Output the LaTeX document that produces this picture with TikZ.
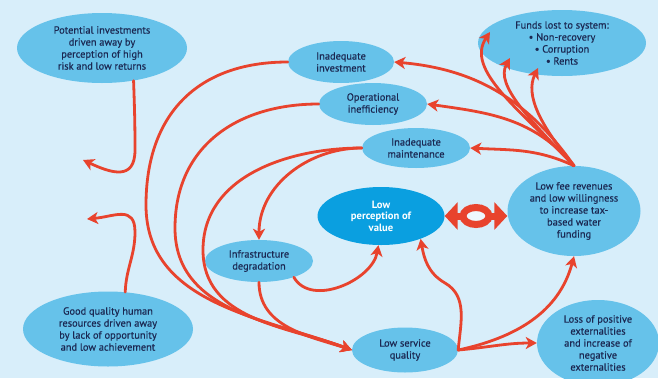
\documentclass[tikz,border=0pt]{standalone}
\usepackage{fontspec}
\setmainfont{PT Sans}
\newfontfamily\txtfont{PT Sans}[FakeBold=0.4]
\usetikzlibrary{shapes.geometric,arrows.meta}
\definecolor{bg}{HTML}{D8EEFA}
\definecolor{ell}{HTML}{66C2EA}
\definecolor{ellD}{HTML}{0A9FE0}
\definecolor{arr}{HTML}{E8432D}
\definecolor{txt}{HTML}{1B2852}
\definecolor{hole}{HTML}{EEF7FD}
\begin{document}
\begin{tikzpicture}[x=1pt,y=-1pt,
  bub/.style={ellipse, fill=ell, inner sep=0pt, align=center, text=txt,
    font=\txtfont\fontsize{10.4}{12}\selectfont},
  bubD/.style={bub, fill=ellD, text=white, font=\fontsize{10.6}{11.5}\selectfont\bfseries},
  rarr/.style={draw=arr, line width=2.8pt, line cap=round,
    -{Stealth[length=11pt,width=12pt,inset=3pt]}},
  dblarr/.style={draw=arr, line width=7pt,
    {Triangle[length=13pt,width=27pt]}-{Triangle[length=13pt,width=27pt]}},
  ringnode/.style={ellipse, draw=arr, fill=hole, line width=7pt, inner sep=0pt,
    minimum width=26pt, minimum height=17pt},
]
\fill[bg] (0,0) rectangle (658,378);
\useasboundingbox (0,0) rectangle (658,378);

% nodes
\node[bub, minimum width=170pt, minimum height=70pt] (pot) at (102,48)
  {Potential investments\\driven away by\\perception of high\\risk and low returns};
\node[bub, minimum width=168pt, minimum height=66pt] (funds) at (562,43)
  {Funds lost to system:\\• Non-recovery\\• Corruption\\• Rents};
\node[bub, minimum width=106pt, minimum height=42pt] (inv) at (341,62)
  {Inadequate\\investment};
\node[bub, minimum width=108pt, minimum height=42pt] (ope) at (373,104)
  {Operational\\inefficiency};
\node[bub, minimum width=108pt, minimum height=40pt] (mai) at (416,148)
  {Inadequate\\maintenance};
\node[bubD, minimum width=127pt, minimum height=58pt] (lpv) at (381,216)
  {Low\\perception of\\value};
\node[bub, minimum width=133pt, minimum height=90pt] (lfr) at (574,211)
  {Low fee revenues\\and low willingness\\to increase tax-\\based water\\funding};
\node[bub, minimum width=108pt, minimum height=42pt] (inf) at (259,261)
  {Infrastructure\\degradation};
\node[bub, minimum width=170pt, minimum height=75pt] (good) at (108,329)
  {Good quality human\\resources driven away\\by lack of opportunity\\and low achievement};
\node[bub, minimum width=106pt, minimum height=45pt] (lsq) at (405,350)
  {Low service\\quality};
\node[bub, minimum width=122pt, minimum height=86pt] (loss) at (598,343)
  {Loss of positive\\externalities\\and increase of\\negative\\externalities};

% free ends
\coordinate (hookA) at (83,160);
\coordinate (hookB) at (87,219);
\coordinate (f1) at (490,32);
\coordinate (f2) at (510,58);
\coordinate (f3) at (538,68);

% hooks
\draw[rarr] (pot.-46) to[out=-88,in=90] (135,150) to[out=-90,in=-25,looseness=1.5] (hookA);
\draw[rarr] (good.65) to[out=88,in=-90] (135,232) to[out=90,in=5,looseness=1.4] (hookB);

% into low service quality
\draw[rarr] (inv.west) to[out=180,in=90,looseness=1.15] (146,205) to[out=-90,in=160] (lsq.west);
\draw[rarr] (ope.west) to[out=180,in=90,looseness=1.1] (175,228) to[out=-90,in=160] (lsq.west);
\draw[rarr] (mai.west) to[out=180,in=90] (203,250) to[out=-90,in=160] (lsq.west);
\draw[rarr] (mai.west) to[out=180,in=90] (inf.north);
\draw[rarr] (inf.south) to[out=-90,in=162] (lsq.west);
\draw[rarr] (inf.-25) to[out=-60,in=-100] (lpv.-95);

% out of low service quality
\draw[rarr] (lsq.east) to[out=85,in=-30] (445,283) to[out=150,in=-80] (lpv.-30);
\draw[rarr] (lsq.east) to[out=12,in=-105] (lfr.south);
\draw[rarr] (lsq.east) to[out=5,in=180] (loss.west);

% fan from low fee revenues
\draw[rarr] (lfr.north) to[out=125,in=-5] (inv.east);
\draw[rarr] (lfr.north) to[out=130,in=-8] (ope.east);
\draw[rarr] (lfr.north) to[out=155,in=-3] (mai.east);
\draw[rarr] (lfr.north) .. controls (520,110) and (465,70) .. (f1);
\draw[rarr] (lfr.north) .. controls (530,120) and (495,85) .. (f2);
\draw[rarr] (lfr.north) .. controls (540,125) and (525,95) .. (f3);

% double arrow with ring
\draw[dblarr] (lpv.east) -- (lpv.east -| lfr.west);
\path (lpv.east) -- (lpv.east -| lfr.west) node[midway, ringnode] (ring) {};
\end{tikzpicture}
\end{document}
